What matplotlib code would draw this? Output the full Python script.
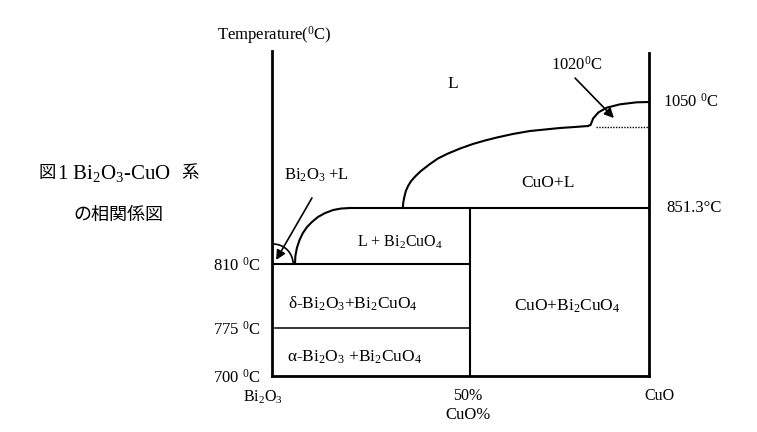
import numpy as np
import matplotlib
matplotlib.use("Agg")
from matplotlib import pyplot as plt
from matplotlib.patches import Arc
from matplotlib.transforms import ScaledTranslation

plt.rcParams['font.family'] = ['Liberation Serif', 'DejaVu Serif', 'Noto Sans CJK JP']
plt.rcParams['mathtext.fontset'] = 'custom'
plt.rcParams['mathtext.rm'] = 'Liberation Serif'
plt.rcParams['mathtext.it'] = 'Liberation Serif:italic'
plt.rcParams['mathtext.bf'] = 'Liberation Serif:bold'

# --- values (x = CuO %, y = temperature in C) ---
compound_x = 52.5          # Bi2CuO4 line, labelled 50%
base_T = 700
alpha_delta_T = 775
eutectic_T = 810
monotectic_T = 851.3
cuo_T = 1020
cuo_melt_T = 1050
top_T = 1114

left_liq_x = [6.1, 6.2, 6.6, 7.3, 8.2, 9.3, 10.6, 12.2, 14.1, 16.2, 18.3, 20.7]
left_liq_T = [810, 815.9, 821.8, 827.7, 832.9, 837.3, 841.0, 844.7, 847.6, 849.8, 850.9, 851.3]

right_liq_x = [34.7, 34.8, 35.1, 35.5, 36.1, 36.9, 38.1, 39.5, 41.9, 44.0, 46.4, 49.9,
               53.3, 56.5, 59.7, 63.9, 68.4, 72.4, 76.4, 80.4, 83.8]
right_liq_T = [851.3, 861.6, 873.9, 886.3, 896.6, 906.8, 917.1, 927.4, 941.8, 953.1, 962.4, 973.7,
               983.0, 990.2, 996.4, 1003.6, 1009.7, 1012.8, 1015.9, 1018.0, 1020.0]

top_liq_x = [83.8, 84.5, 85.2, 86.6, 88.8, 92.3, 96.7, 100]
top_liq_T = [1020.0, 1021.3, 1029.6, 1037.1, 1042.9, 1047.1, 1049.6, 1050]

dotted_x = [85.9, 100]
dotted_T = [1018.8, 1018.8]

xtick_pos = [0, compound_x, 100]
xtick_labels = ['Bi$_2$O$_3$', '50%', 'CuO']
ytick_pos = [base_T, alpha_delta_T, eutectic_T]
ytick_labels = ['700 $^0$C', '775 $^0$C', '810 $^0$C']

# schematic (non linear) temperature axis of the drawing
scale_T = [600, 700, 775, 810, 851.3, 1020, 1050, 1114, 1300]
scale_h = [-100, 0, 48, 112, 168, 250, 274, 325, 470]


def fwd(t):
    return np.interp(t, scale_T, scale_h)


def inv(h):
    return np.interp(h, scale_h, scale_T)


fig = plt.figure(figsize=(7.57, 4.32), dpi=100)
ax = fig.add_axes([272/757, 1 - 376/432, 377/757, 325/432])
ax.set_yscale('function', functions=(fwd, inv))
ax.set_xlim(0, 100)
ax.set_ylim(base_T, top_T)
for s in ax.spines.values():
    s.set_visible(False)

k = 'black'
thick = 2.0
lw = 1.5
ax.plot([0, 0], [base_T, top_T], color=k, lw=thick, clip_on=False, solid_capstyle='projecting')
ax.plot([0, 100], [base_T, base_T], color=k, lw=thick, clip_on=False, solid_capstyle='projecting')
ax.plot([100, 100], [base_T, top_T - 3], color=k, lw=thick, clip_on=False, solid_capstyle='projecting')
ax.plot([0, compound_x], [eutectic_T, eutectic_T], color=k, lw=lw)
ax.plot([0.8, compound_x], [alpha_delta_T, alpha_delta_T], color=k, lw=1.1)
ax.plot([compound_x, compound_x], [base_T, monotectic_T], color=k, lw=lw)
ax.plot([left_liq_x[-1], 100], [monotectic_T, monotectic_T], color=k, lw=lw)
ax.plot(left_liq_x, left_liq_T, color=k, lw=lw, solid_joinstyle='round')
ax.plot(right_liq_x, right_liq_T, color=k, lw=lw, solid_joinstyle='round')
ax.plot(top_liq_x, top_liq_T, color=k, lw=lw, solid_joinstyle='round')
ax.plot(dotted_x, dotted_T, color=k, lw=1.0, linestyle=(0, (1, 1)))

# small arc at the eutectic corner
arc_tr = fig.dpi_scale_trans + ScaledTranslation(0.3, eutectic_T, ax.transData)
ax.add_patch(Arc((0, 0), 0.4, 0.4, theta1=0, theta2=90, transform=arc_tr, color=k, lw=1.2))

arrow = dict(arrowstyle='-|>', color=k, lw=1.2, mutation_scale=14, shrinkA=0, shrinkB=0)
ax.annotate('', xy=(1.1, 813), xytext=(10.6, 872), arrowprops=arrow)
ax.annotate('', xy=(90.7, 1030), xytext=(80.4, 1080), arrowprops=arrow, annotation_clip=False)

fs = 12.5
ax.text(48.0, 1072, 'L', fontsize=fs, ha='center', va='center')
ax.text(80.9, 1097, '1020$^0$C', fontsize=12, ha='center', va='center')
ax.text(11.7, 919, 'Bi$_2$O$_3$ +L', fontsize=12, ha='center', va='center')
ax.text(73.2, 903, 'CuO+L', fontsize=fs, ha='center', va='center')
ax.text(34.0, 826, 'L + Bi$_2$CuO$_4$', fontsize=11.5, ha='center', va='center')
ax.text(21.5, 788, 'δ-Bi$_2$O$_3$+Bi$_2$CuO$_4$', fontsize=fs, ha='center', va='center')
ax.text(22.0, 730, 'α-Bi$_2$O$_3$ +Bi$_2$CuO$_4$', fontsize=fs, ha='center', va='center')
ax.text(78.2, 787, 'CuO+Bi$_2$CuO$_4$', fontsize=fs, ha='center', va='center')

ax.text(103.7, cuo_melt_T, '1050 $^0$C', fontsize=12, ha='left', va='center', clip_on=False)
ax.text(104.7, monotectic_T, '851.3°C', fontsize=12, ha='left', va='center', clip_on=False)

ax.set_xticks(xtick_pos, labels=xtick_labels, fontsize=11.5)
ax.set_yticks(ytick_pos, labels=ytick_labels, fontsize=12)
ax.tick_params(length=0)
ax.tick_params(axis='x', pad=9)
ax.tick_params(axis='y', pad=8)
ax.minorticks_off()
shifts = [-9, -2, 10]
for lbl, dx in zip(ax.get_xticklabels(), shifts):
    lbl.set_transform(lbl.get_transform() + ScaledTranslation(dx / 100, 0, fig.dpi_scale_trans))

ax.text(52.0, -0.12, 'CuO%', fontsize=12, ha='center', va='center',
        transform=ax.get_xaxis_transform())
ax.text(0.007, 1.05, 'Temperature($^0$C)', fontsize=12, ha='center', va='center',
        transform=ax.transAxes)

# caption on the left
fig.text(38/757, 1 - 173/432, '図', fontsize=12.5, family='Noto Sans CJK JP', va='center')
fig.text(57/757, 1 - 173/432, '1 Bi$_2$O$_3$-CuO', fontsize=15, va='center')
fig.text(181/757, 1 - 173/432, '系', fontsize=12.5, family='Noto Sans CJK JP', va='center')
fig.text(73/757, 1 - 215/432, 'の相関係図', fontsize=13, family='Noto Sans CJK JP', va='center')

fig.savefig('out.png', dpi=100, facecolor='white')
